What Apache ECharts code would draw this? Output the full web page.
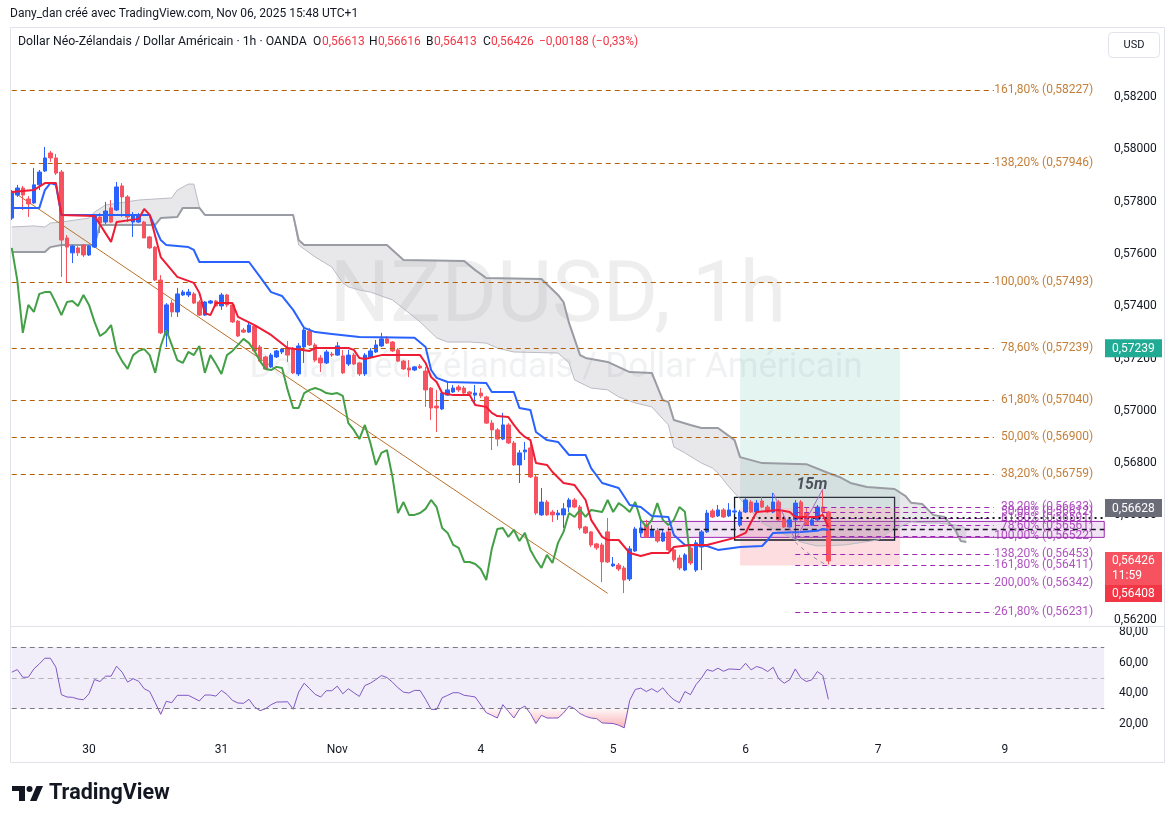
<!DOCTYPE html>
<html><head><meta charset="utf-8">
<script src="https://cdn.jsdelivr.net/npm/echarts@6/dist/echarts.min.js"></script>
<style>html,body{margin:0;padding:0;background:#fff;}#c{width:1175px;height:824px;}</style>
</head><body><div id="c"></div>
<script>
// ---------- DATA ----------
const opens = [0.57737,0.57825,0.57852,0.57810,0.57795,0.57864,0.57917,0.57986,0.57967,0.57913,
0.57661,0.57604,0.57623,0.57634,0.57596,0.57626,0.57741,0.57722,0.57776,0.57768,
0.57860,0.57818,0.57722,0.57722,0.57722,0.57665,0.57626,0.57500,0.57290,0.57412,
0.57378,0.57443,0.57443,0.57447,0.57416,0.57366,0.57412,0.57420,0.57401,0.57443,
0.57405,0.57343,0.57309,0.57301,0.57324,0.57244,0.57206,0.57168,0.57206,0.57225,
0.57240,0.57236,0.57141,0.57244,0.57305,0.57252,0.57202,0.57183,0.57217,0.57213,
0.57210,0.57179,0.57213,0.57183,0.57141,0.57206,0.57225,0.57248,0.57275,0.57263,
0.57233,0.57190,0.57164,0.57156,0.57171,0.57152,0.57087,0.57018,0.57007,0.57060,
0.57072,0.57091,0.57087,0.57072,0.57060,0.57068,0.57053,0.56953,0.56927,0.56892,
0.56946,0.56877,0.56793,0.56843,0.56858,0.56747,0.56602,0.56651,0.56613,0.56602,
0.56602,0.56632,0.56659,0.56632,0.56556,0.56537,0.56491,0.56487,0.56537,0.56407,
0.56410,0.56399,0.56357,0.56464,0.56533,0.56563,0.56518,0.56541,0.56502,0.56537,
0.56468,0.56437,0.56391,0.56475,0.56391,0.56479,0.56537,0.56617,0.56598,0.56621,
0.56598,0.56613,0.56563,0.56613,0.56651,0.56613,0.56655,0.56632,0.56613,0.56651,
0.56590,0.56556,0.56583,0.56651,0.56609,0.56563,0.56583,0.56632,0.56613];
const closes = [0.57833,0.57852,0.57825,0.57791,0.57864,0.57913,0.57967,0.57967,0.57909,0.57653,
0.57626,0.57630,0.57604,0.57596,0.57630,0.57745,0.57718,0.57764,0.57722,0.57856,
0.57818,0.57741,0.57749,0.57749,0.57661,0.57623,0.57500,0.57298,0.57405,0.57378,
0.57447,0.57454,0.57454,0.57412,0.57366,0.57416,0.57420,0.57401,0.57443,0.57405,
0.57340,0.57286,0.57301,0.57328,0.57229,0.57190,0.57160,0.57213,0.57229,0.57236,
0.57213,0.57145,0.57248,0.57309,0.57252,0.57194,0.57183,0.57225,0.57213,0.57248,
0.57145,0.57213,0.57179,0.57141,0.57213,0.57229,0.57252,0.57275,0.57259,0.57229,
0.57190,0.57160,0.57156,0.57168,0.57164,0.57080,0.57011,0.57011,0.57068,0.57080,
0.57087,0.57080,0.57068,0.57064,0.57068,0.57057,0.56953,0.56927,0.56892,0.56946,
0.56877,0.56793,0.56839,0.56850,0.56747,0.56609,0.56651,0.56602,0.56602,0.56609,
0.56625,0.56659,0.56632,0.56552,0.56533,0.56487,0.56476,0.56422,0.56422,0.56414,
0.56395,0.56353,0.56472,0.56548,0.56552,0.56518,0.56545,0.56502,0.56533,0.56468,
0.56430,0.56399,0.56449,0.56418,0.56495,0.56537,0.56609,0.56594,0.56621,0.56594,
0.56621,0.56617,0.56613,0.56659,0.56613,0.56647,0.56632,0.56613,0.56651,0.56583,
0.56556,0.56583,0.56647,0.56583,0.56563,0.56583,0.56632,0.56614,0.56426];
const highs = [0.57844,0.57864,0.57860,0.57821,0.57929,0.57921,0.58009,0.57994,0.57982,0.57921,
0.57672,0.57634,0.57630,0.57638,0.57634,0.57753,0.57756,0.57799,0.57806,0.57875,
0.57871,0.57825,0.57760,0.57756,0.57726,0.57669,0.57630,0.57519,0.57412,0.57424,
0.57470,0.57462,0.57466,0.57454,0.57424,0.57420,0.57424,0.57424,0.57451,0.57447,
0.57412,0.57347,0.57317,0.57340,0.57328,0.57252,0.57210,0.57221,0.57233,0.57240,
0.57267,0.57244,0.57259,0.57321,0.57317,0.57259,0.57213,0.57233,0.57225,0.57263,
0.57233,0.57233,0.57221,0.57187,0.57221,0.57240,0.57271,0.57298,0.57286,0.57267,
0.57240,0.57194,0.57194,0.57171,0.57179,0.57168,0.57091,0.57080,0.57072,0.57110,
0.57099,0.57099,0.57095,0.57076,0.57099,0.57087,0.57057,0.56965,0.56934,0.56992,
0.56953,0.56885,0.56850,0.56881,0.56888,0.56755,0.56705,0.56659,0.56621,0.56621,
0.56647,0.56667,0.56667,0.56640,0.56560,0.56540,0.56495,0.56495,0.56590,0.56441,
0.56418,0.56407,0.56483,0.56556,0.56583,0.56583,0.56563,0.56552,0.56544,0.56556,
0.56475,0.56449,0.56456,0.56487,0.56506,0.56544,0.56621,0.56625,0.56640,0.56628,
0.56647,0.56628,0.56621,0.56667,0.56659,0.56659,0.56670,0.56640,0.56686,0.56659,
0.56598,0.56590,0.56659,0.56659,0.56628,0.56590,0.56640,0.56701,0.56616];
const lows = [0.57730,0.57818,0.57768,0.57741,0.57791,0.57844,0.57913,0.57952,0.57902,0.57512,
0.57489,0.57565,0.57592,0.57588,0.57592,0.57623,0.57680,0.57714,0.57718,0.57764,
0.57741,0.57722,0.57665,0.57718,0.57661,0.57619,0.57496,0.57294,0.57244,0.57359,
0.57359,0.57439,0.57435,0.57408,0.57363,0.57363,0.57408,0.57397,0.57386,0.57397,
0.57336,0.57282,0.57298,0.57298,0.57225,0.57187,0.57156,0.57164,0.57202,0.57217,
0.57187,0.57141,0.57133,0.57183,0.57248,0.57187,0.57148,0.57179,0.57206,0.57210,
0.57141,0.57171,0.57175,0.57133,0.57133,0.57202,0.57221,0.57244,0.57256,0.57225,
0.57187,0.57156,0.57129,0.57152,0.57160,0.57015,0.56965,0.56919,0.57003,0.57057,
0.57068,0.57072,0.57064,0.57060,0.57022,0.57049,0.56950,0.56850,0.56865,0.56888,
0.56873,0.56789,0.56724,0.56812,0.56743,0.56602,0.56598,0.56598,0.56575,0.56583,
0.56552,0.56613,0.56628,0.56544,0.56529,0.56479,0.56468,0.56345,0.56418,0.56403,
0.56387,0.56303,0.56349,0.56460,0.56518,0.56514,0.56514,0.56495,0.56498,0.56464,
0.56422,0.56391,0.56387,0.56410,0.56384,0.56391,0.56533,0.56590,0.56594,0.56590,
0.56594,0.56605,0.56556,0.56609,0.56609,0.56605,0.56628,0.56609,0.56609,0.56579,
0.56552,0.56552,0.56506,0.56579,0.56560,0.56560,0.56579,0.56605,0.56413];

// Ichimoku lines: [bar index, price]
const tenkan = [[0,0.57837],[4,0.57844],[6,0.57871],[8,0.57871],[9,0.57749],[15,0.57745],[18,0.57646],[19,0.57722],[23,0.57734],[24,0.57772],[25,0.57749],[27,0.57588],[30,0.57512],[33,0.57489],[34,0.57451],[35,0.57374],[36,0.57366],[37,0.57412],[40,0.57412],[41,0.57359],[44,0.57328],[47,0.57290],[50,0.57240],[54,0.57229],[55,0.57240],[61,0.57240],[62,0.57233],[63,0.57202],[64,0.57198],[67,0.57213],[74,0.57213],[75,0.57183],[76,0.57129],[77,0.57110],[78,0.57068],[80,0.57060],[83,0.57060],[84,0.57022],[86,0.57015],[87,0.56992],[88,0.56980],[90,0.56976],[91,0.56946],[92,0.56919],[93,0.56900],[94,0.56888],[95,0.56800],[97,0.56793],[98,0.56766],[100,0.56724],[102,0.56716],[104,0.56659],[105,0.56583],[107,0.56518],[108,0.56506],[110,0.56506],[112,0.56456],[114,0.56445],[116,0.56456],[119,0.56456],[120,0.56479],[123,0.56487],[126,0.56487],[131,0.56514],[133,0.56533],[134,0.56575],[135,0.56613],[139,0.56621],[141,0.56613],[142,0.56594],[146,0.56594],[147,0.56602],[148,0.56556]];
const kijun = [[0,0.57776],[5,0.57776],[6,0.57844],[7,0.57871],[8,0.57864],[9,0.57749],[25,0.57749],[27,0.57653],[28,0.57634],[32,0.57626],[33,0.57615],[34,0.57569],[43,0.57569],[45,0.57512],[47,0.57454],[49,0.57439],[51,0.57386],[53,0.57317],[55,0.57301],[58,0.57294],[63,0.57282],[73,0.57279],[75,0.57244],[76,0.57156],[77,0.57126],[79,0.57110],[86,0.57106],[87,0.57072],[91,0.57072],[92,0.57011],[94,0.57003],[95,0.56919],[97,0.56888],[99,0.56881],[101,0.56831],[104,0.56831],[105,0.56781],[107,0.56724],[110,0.56705],[112,0.56640],[114,0.56632],[116,0.56598],[119,0.56594],[120,0.56525],[122,0.56487],[126,0.56483],[128,0.56468],[132,0.56479],[136,0.56483],[137,0.56506],[138,0.56533],[143,0.56537],[146,0.56541],[147,0.56548],[148,0.56544]];
const spanA = [[0,0.57703],[4,0.57707],[6,0.57703],[7,0.57718],[9,0.57722],[14,0.57737],[15,0.57760],[17,0.57787],[23,0.57806],[29,0.57814],[30,0.57844],[32,0.57867],[33,0.57867],[34,0.57779],[35,0.57749],[51,0.57749],[52,0.57634],[55,0.57588],[58,0.57550],[60,0.57489],[61,0.57474],[63,0.57462],[65,0.57454],[69,0.57424],[72,0.57374],[74,0.57340],[77,0.57279],[79,0.57263],[83,0.57263],[86,0.57259],[88,0.57240],[91,0.57225],[99,0.57221],[101,0.57183],[102,0.57118],[105,0.57087],[108,0.57080],[110,0.57053],[113,0.57030],[116,0.57015],[119,0.56946],[120,0.56862],[122,0.56839],[125,0.56800],[127,0.56781],[128,0.56762],[130,0.56709],[131,0.56686],[136,0.56571],[139,0.56537],[143,0.56498],[146,0.56483],[151,0.56487],[157,0.56506],[159,0.56537],[163,0.56575],[166,0.56571],[168,0.56571],[172,0.56560],[173,0.56548]];
const spanB = [[0,0.57607],[6,0.57607],[7,0.57626],[9,0.57634],[15,0.57634],[16,0.57711],[26,0.57711],[27,0.57737],[30,0.57741],[31,0.57776],[34,0.57776],[35,0.57749],[51,0.57749],[52,0.57653],[53,0.57634],[68,0.57634],[71,0.57577],[82,0.57573],[84,0.57538],[86,0.57508],[96,0.57504],[99,0.57443],[100,0.57416],[101,0.57336],[103,0.57213],[104,0.57202],[108,0.57187],[112,0.57148],[116,0.57145],[118,0.57041],[119,0.57034],[120,0.56965],[123,0.56946],[125,0.56934],[128,0.56934],[131,0.56888],[132,0.56823],[136,0.56800],[144,0.56796],[148,0.56762],[150,0.56747],[152,0.56724],[155,0.56709],[160,0.56701],[162,0.56674],[163,0.56648],[165,0.56644],[167,0.56602],[169,0.56594],[171,0.56544],[172,0.56502],[173,0.56498]];
const chikouShift = 25;

// RSI: [bar index, value]
const rsi = [[0,53.8],[1,55.5],[2,50.5],[3,50.5],[4,55.9],[5,59.2],[6,62.9],[7,62.9],[8,57.0],[9,39.1],[10,37.6],[11,37.4],[12,36.3],[13,35.8],[14,39.7],[15,49.0],[16,47.7],[17,51.2],[18,51.2],[19,57.7],[20,53.8],[21,47.3],[22,49.5],[23,47.9],[24,43.0],[25,41.2],[26,33.9],[27,26.3],[28,34.8],[29,33.9],[30,38.7],[32,38.7],[33,36.9],[34,35.0],[35,38.9],[36,38.9],[37,38.2],[38,41.9],[39,39.3],[40,35.4],[41,33.7],[42,33.5],[43,36.1],[44,31.1],[45,28.7],[46,30.0],[47,32.6],[48,34.3],[50,34.5],[51,29.6],[52,40.8],[53,46.6],[54,43.0],[55,39.3],[56,37.6],[57,41.7],[58,41.7],[59,44.7],[60,39.7],[61,43.0],[62,40.4],[63,38.0],[64,45.1],[65,46.6],[66,49.0],[67,51.6],[68,50.3],[69,47.3],[70,43.6],[71,40.8],[72,40.2],[73,41.9],[74,41.9],[75,36.1],[76,29.6],[77,29.4],[78,37.1],[79,38.7],[80,40.4],[81,40.4],[82,38.7],[83,38.2],[84,37.6],[86,27.4],[87,25.7],[88,23.9],[89,32.6],[90,28.3],[91,23.9],[92,29.6],[93,31.7],[94,26.8],[95,20.3],[96,25.7],[97,23.9],[98,23.9],[99,23.9],[100,27.2],[101,31.7],[102,30.0],[103,26.8],[104,25.0],[105,23.9],[106,23.5],[107,20.7],[109,20.3],[110,19.2],[111,17.5],[112,35.4],[113,42.5],[114,43.4],[115,41.2],[116,43.0],[117,40.8],[118,43.6],[119,39.1],[120,35.8],[121,33.9],[122,41.2],[123,39.1],[124,45.6],[125,49.9],[126,55.5],[127,54.4],[128,56.4],[129,54.4],[130,55.9],[132,55.5],[133,59.6],[134,55.3],[135,57.5],[136,56.4],[137,54.2],[138,57.0],[139,49.5],[140,46.6],[141,48.8],[142,55.9],[143,50.1],[144,47.7],[145,48.8],[146,54.2],[147,51.6],[148,36.1]];

// Time axis
const barCount = 199;
const tickIdx = [14,38,59,85,109,133,157,180];
const tickText = ['30','31','Nov','4','5','6','7','9'];
const priceTicks = [0.562,0.564,0.566,0.568,0.570,0.572,0.574,0.576,0.578,0.580,0.582];
const rsiTicks = [20,40,60,80];

// Drawings
const fibBigPct = ['161,80%','138,20%','100,00%','78,60%','61,80%','50,00%','38,20%'];
const fibBigVal = [0.58227,0.57946,0.57493,0.57239,0.57040,0.56900,0.56759];
const fibSmallPct = ['38,20%','50,00%','61,80%','78,60%','100,00%','138,20%','161,80%','200,00%','261,80%'];
const fibSmallVal = [0.56633,0.56612,0.56591,0.56561,0.56522,0.56453,0.56411,0.56342,0.56231];
const trendLine = [[0,0.57841],[108,0.56302]];
const zigzag = [[138,0.56686],[142,0.56506],[147,0.56701]];
const arrowPath = [[142,0.56498],[145,0.56445],[148,0.56407]];
const posEntry = 0.56628, posTarget = 0.57239, posStop = 0.56408, posFrom = 132, posTo = 161;
const boxTL = [131,0.56669], boxBR = [160,0.56506];
const bandTL = [114,0.56577], bandBR = [198,0.56516];
const dashedLevel = 0.56548, dottedLevel = 0.56591;
const lastClose = 0.56426;

// ---------- CHART ----------
const FONT = 'Roboto, "Open Sans", sans-serif';
const fmtP = v => v.toFixed(5).replace('.', ',');
const cats = Array.from({length: barCount}, (_, i) => String(i));
const candleData = opens.map((o, i) => [o, closes[i], lows[i], highs[i]]);
const chikou = closes.slice(chikouShift).map((c, i) => [i, c]);

const chart = echarts.init(document.getElementById('c'));

const brown = '#B45F06', purple = '#9C27B0';
function hLine(from, to, val, style) {
  return [{coord: [from, val], lineStyle: style}, {coord: [to, val]}];
}
const fibLines = [];
fibBigVal.forEach(v => fibLines.push(hLine(0, 178, v, {color: brown, type: [5, 4], width: 1})));
fibSmallVal.forEach(v => fibLines.push(hLine(142, 178, v, {color: purple, type: [5, 4], width: 1})));
fibLines.push(hLine(114, 198, dashedLevel, {color: '#131722', type: [5, 4], width: 1.3}));
fibLines.push(hLine(131, 198, dottedLevel, {color: '#131722', type: [2, 4], width: 2}));

const fibLabels = [];
fibBigVal.forEach((v, k) => fibLabels.push({value: [196, v], label: {formatter: fibBigPct[k] + ' (' + fmtP(v) + ')', color: brown}}));
fibSmallVal.forEach((v, k) => fibLabels.push({value: [196, v], label: {formatter: fibSmallPct[k] + ' (' + fmtP(v) + ')', color: purple}}));

const option = {
  animation: false,
  textStyle: {fontFamily: FONT},
  grid: [
    {left: 9, right: 68, top: 28, height: 597},
    {left: 9, right: 68, top: 627, height: 111}
  ],
  xAxis: [
    {type: 'category', gridIndex: 0, data: cats, boundaryGap: true, show: false},
    {type: 'category', gridIndex: 1, data: cats, boundaryGap: true,
     axisLine: {show: false}, axisTick: {show: false},
     axisLabel: {interval: (i) => tickIdx.indexOf(i) >= 0, formatter: (v, i) => tickText[tickIdx.indexOf(i)] || '',
       color: '#131722', fontSize: 12, margin: 6}}
  ],
  yAxis: [
    {type: 'value', gridIndex: 0, position: 'right', min: 0.561809, max: 0.584639, scale: true,
     splitLine: {show: false}, axisLine: {show: false}, axisTick: {show: false},
     axisLabel: {customValues: priceTicks, formatter: fmtP, color: '#131722', fontSize: 12, margin: 7, padding: [3, 0, 0, 0]}},
    {type: 'value', gridIndex: 1, position: 'right', min: 10.87, max: 83.26,
     splitLine: {show: false}, axisLine: {show: false}, axisTick: {show: false},
     axisLabel: {customValues: rsiTicks, formatter: v => v.toFixed(2).replace('.', ','), color: '#131722', fontSize: 12, margin: 12, padding: [2, 0, 0, 0]}}
  ],
  series: [
    { // drawings areas
      type: 'line', xAxisIndex: 0, yAxisIndex: 0, z: 1, data: [], silent: true,
      markArea: {silent: true, data: [
        [{coord: [posFrom, posEntry], itemStyle: {color: 'rgba(8,153,129,0.11)'}}, {coord: [posTo, posTarget]}],
        [{coord: [posFrom, posStop], itemStyle: {color: 'rgba(242,54,69,0.17)'}}, {coord: [posTo, posEntry]}],
        [{coord: bandTL, itemStyle: {color: 'rgba(156,39,176,0.13)', borderColor: purple, borderWidth: 1}}, {coord: bandBR}]
      ]}
    },
    { // cloud fill
      type: 'custom', xAxisIndex: 0, yAxisIndex: 0, z: 2, silent: true,
      data: [[0, 0.57]], encode: {x: 0, y: 1},
      renderItem: (params, api) => {
        const pts = spanA.map(p => api.coord(p)).concat(spanB.slice().reverse().map(p => api.coord(p)));
        return {type: 'polygon', shape: {points: pts}, style: {fill: 'rgba(149,152,161,0.22)'}};
      }
    },
    {type: 'line', name: 'spanA', xAxisIndex: 0, yAxisIndex: 0, z: 3, data: spanA, showSymbol: false, silent: true,
     lineStyle: {color: '#B8BBC3', width: 1}},
    {type: 'line', name: 'spanB', xAxisIndex: 0, yAxisIndex: 0, z: 3, data: spanB, showSymbol: false, silent: true,
     lineStyle: {color: '#9A9CA3', width: 2}},
    { // fib / level lines + box
      type: 'line', xAxisIndex: 0, yAxisIndex: 0, z: 3, data: [], silent: true,
      markLine: {silent: true, symbol: 'none', label: {show: false}, data: fibLines},
      markArea: {silent: true, data: [
        [{coord: boxTL, itemStyle: {color: 'rgba(0,0,0,0)', borderColor: '#131722', borderWidth: 1.3}}, {coord: boxBR}]
      ]}
    },
    {type: 'line', xAxisIndex: 0, yAxisIndex: 0, z: 3, data: trendLine, showSymbol: false, silent: true,
     lineStyle: {color: '#B8722C', width: 1}},
    {type: 'candlestick', xAxisIndex: 0, yAxisIndex: 0, z: 4, data: candleData, barWidth: 4,
     itemStyle: {color: '#2962FF', color0: '#F7525F', borderColor: '#2962FF', borderColor0: '#F7525F', borderWidth: 1}},
    {type: 'line', name: 'chikou', xAxisIndex: 0, yAxisIndex: 0, z: 5, data: chikou, showSymbol: false, silent: true,
     lineStyle: {color: '#43A047', width: 2}},
    {type: 'line', name: 'kijun', xAxisIndex: 0, yAxisIndex: 0, z: 5, data: kijun, showSymbol: false, silent: true,
     lineStyle: {color: '#2962FF', width: 2}},
    {type: 'line', name: 'tenkan', xAxisIndex: 0, yAxisIndex: 0, z: 5, data: tenkan, showSymbol: false, silent: true,
     lineStyle: {color: '#EE1C34', width: 2}},
    {type: 'line', xAxisIndex: 0, yAxisIndex: 0, z: 6, data: zigzag, showSymbol: false, silent: true,
     lineStyle: {color: '#A56BC9', width: 1}},
    {type: 'line', xAxisIndex: 0, yAxisIndex: 0, z: 6, data: arrowPath, showSymbol: false, silent: true, smooth: true,
     lineStyle: {color: '#8A8D96', width: 1, type: [4, 4]}},
    {type: 'scatter', xAxisIndex: 0, yAxisIndex: 0, z: 7, symbolSize: 0, silent: true, data: fibLabels,
     label: {show: true, position: 'left', distance: 0, fontSize: 12}},
    {type: 'scatter', xAxisIndex: 0, yAxisIndex: 0, z: 7, symbolSize: 0, silent: true,
     data: [{value: [145, 0.56716], label: {formatter: '15m'}}],
     label: {show: true, position: 'inside', fontSize: 16, fontWeight: 'bold', fontStyle: 'italic', color: '#2A2E39'}},
    // RSI pane
    { // band + levels
      type: 'line', xAxisIndex: 1, yAxisIndex: 1, z: 1, data: [], silent: true,
      markArea: {silent: true, data: [[{coord: [0, 70], itemStyle: {color: 'rgba(126,87,194,0.1)'}}, {coord: [198, 30]}]]},
      markLine: {silent: true, symbol: 'none', label: {show: false}, data: [
        hLine(0, 198, 70, {color: '#787B86', type: [5, 4], width: 1}),
        hLine(0, 198, 30, {color: '#787B86', type: [5, 4], width: 1}),
        hLine(0, 198, 50, {color: 'rgba(120,123,134,0.5)', type: [5, 4], width: 1})
      ]}
    },
    { // oversold fill
      type: 'custom', xAxisIndex: 1, yAxisIndex: 1, z: 2, silent: true,
      data: [[0, 50]], encode: {x: 0, y: 1},
      renderItem: (params, api) => {
        const pts = [api.coord([rsi[0][0], 30])]
          .concat(rsi.map(p => api.coord([p[0], Math.min(p[1], 30)])))
          .concat([api.coord([rsi[rsi.length - 1][0], 30])]);
        return {type: 'polygon', shape: {points: pts}, style: {
          fill: new echarts.graphic.LinearGradient(0, 0, 0, 1, [
            {offset: 0, color: 'rgba(242,54,69,0.04)'}, {offset: 1, color: 'rgba(242,54,69,0.38)'}])}};
      }
    },
    {type: 'line', name: 'RSI', xAxisIndex: 1, yAxisIndex: 1, z: 3, data: rsi, showSymbol: false, silent: true,
     lineStyle: {color: '#7E57C2', width: 1}}
  ]
};
chart.setOption(option);

// ---------- overlay text & badges ----------
const yPx = p => chart.convertToPixel({yAxisIndex: 0}, p);
function badge(y, h, color, lines, lh) {
  const els = [{type: 'rect', shape: {x: 1105, y: y, width: 57, height: h}, style: {fill: color}, z: 100, silent: true}];
  lines.forEach((t, k) => els.push({type: 'text', x: 1112, y: y + lh / 2 + 1 + k * 15, z: 101, silent: true,
    style: {text: t, fill: '#fff', font: '12px ' + FONT, verticalAlign: 'middle'}}));
  return els;
}
const yG = yPx(posTarget), yE = yPx(posEntry), yC = yPx(lastClose);
let g = [];
g = g.concat(badge(yG - 9, 18, '#22AB94', [fmtP(posTarget)], 18));
g = g.concat(badge(yE - 9, 18, '#6A6D78', [fmtP(posEntry)], 18));
g = g.concat(badge(yC - 9, 33, '#F7525F', [fmtP(lastClose), '11:59'], 17));
g = g.concat(badge(yC + 24, 17, '#F23645', [fmtP(posStop)], 17));

const dark = '#131722', red = '#F23645';
const txt = (x, y, t, fill, font, extra) => Object.assign({type: 'text', x: x, y: y, silent: true, z: 50,
  style: {text: t, fill: fill, font: font || ('12px ' + FONT), verticalAlign: 'middle'}}, extra || {});
g.push(txt(10, 14, 'Dany_dan créé avec TradingView.com, Nov 06, 2025 15:48 UTC+1', dark));
g.push(txt(18, 42, 'Dollar Néo-Zélandais / Dollar Américain · 1h · OANDA', dark, '12.3px ' + FONT));
g.push(txt(313, 42, 'O', dark)); g.push(txt(322, 42, fmtP(opens[148]), red));
g.push(txt(369, 42, 'H', dark)); g.push(txt(378, 42, fmtP(highs[148]), red));
g.push(txt(426, 42, 'B', dark)); g.push(txt(434, 42, fmtP(lows[148]), red));
g.push(txt(483, 42, 'C', dark)); g.push(txt(491, 42, fmtP(closes[148]), red));
g.push(txt(539, 42, '−0,00188 (−0,33%)', red));
// watermark
g.push({type: 'text', x: 558, y: 300, z: 0, silent: true,
  style: {text: 'NZDUSD, 1h', fill: 'rgba(120,123,134,0.13)', font: '85px ' + FONT, align: 'center', verticalAlign: 'middle'}});
g.push({type: 'text', x: 556, y: 368, z: 0, silent: true,
  style: {text: 'Dollar Néo-Zélandais / Dollar Américain', fill: 'rgba(120,123,134,0.11)', font: '35px ' + FONT, align: 'center', verticalAlign: 'middle'}});
// frame
g.push({type: 'rect', z: 60, silent: true, shape: {x: 10.5, y: 27.5, width: 1154, height: 735}, style: {fill: 'none', stroke: '#E0E3EB', lineWidth: 1}});
g.push({type: 'line', z: 60, silent: true, shape: {x1: 10, y1: 626.5, x2: 1165, y2: 626.5}, style: {stroke: '#E0E3EB', lineWidth: 1}});
// USD button
g.push({type: 'rect', z: 60, silent: true, shape: {x: 1108.5, y: 32.5, width: 51, height: 25, r: 4}, style: {fill: '#fff', stroke: '#E0E3EB', lineWidth: 1}});
g.push({type: 'text', x: 1134, y: 45, z: 61, silent: true, style: {text: 'USD', fill: dark, font: '11px ' + FONT, align: 'center', verticalAlign: 'middle'}});
// TradingView logo
g.push({type: 'rect', z: 60, silent: true, shape: {x: 12, y: 786, width: 13, height: 5}, style: {fill: dark}});
g.push({type: 'rect', z: 60, silent: true, shape: {x: 19, y: 786, width: 6, height: 15}, style: {fill: dark}});
g.push({type: 'circle', z: 60, silent: true, shape: {cx: 29.5, cy: 789, r: 3}, style: {fill: dark}});
g.push({type: 'polygon', z: 60, silent: true, shape: {points: [[30, 801], [36.5, 786], [43, 786], [36.5, 801]]}, style: {fill: dark}});
g.push(txt(49, 794, 'TradingView', dark, 'bold 21.5px ' + FONT));
chart.setOption({graphic: g});
</script>
</body></html>
